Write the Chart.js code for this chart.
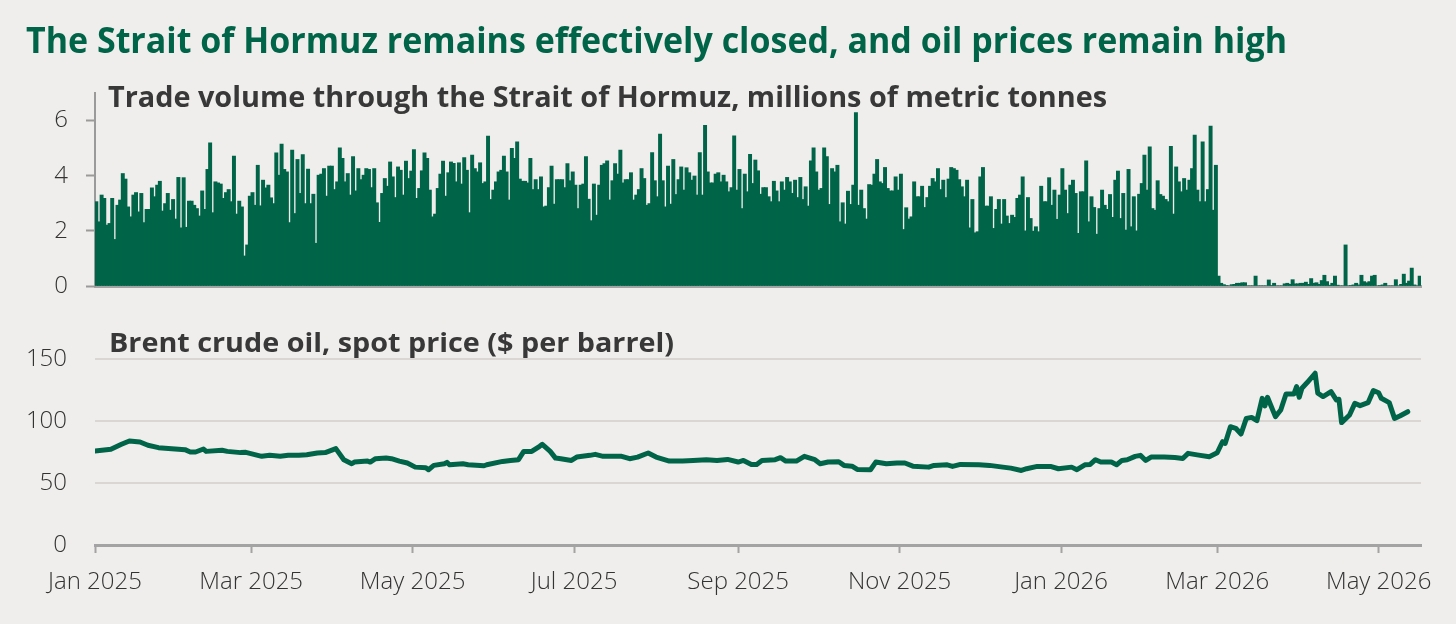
<!DOCTYPE html>
<html><head><meta charset="utf-8">
<script src="https://cdn.jsdelivr.net/npm/chart.js"></script>
<style>
html,body{margin:0;padding:0;background:#efeeec;}
#wrap{position:relative;width:1456px;height:624px;overflow:hidden;background:#efeeec;font-family:'Open Sans',sans-serif;}
canvas{position:absolute;left:0;}
.txt{position:absolute;white-space:nowrap;transform-origin:0 0;line-height:1;z-index:2;display:inline-block;}
#title{left:26px;top:22px;font-size:35px;font-weight:700;color:#006548;}
#sub1{left:108px;top:82px;font-size:28px;font-weight:700;color:#383838;}
#sub2{left:109px;top:328px;font-size:27.5px;font-weight:700;color:#383838;}
</style></head>
<body><div id="wrap">
<canvas id="c1" width="1456" height="340" style="top:0"></canvas>
<canvas id="c2" width="1456" height="324" style="top:300px"></canvas>
<div id="title" class="txt">The Strait of Hormuz remains effectively closed, and oil prices remain high</div>
<div id="sub1" class="txt">Trade volume through the Strait of Hormuz, millions of metric tonnes</div>
<div id="sub2" class="txt">Brent crude oil, spot price ($ per barrel)</div>
</div>
<script>
// ---- data (day 0 = 1 Jan 2025) ----
const monthTickDays = [0,59,120,181,243,304,365,424,485];
const monthTickLabels = ['Jan 2025','Mar 2025','May 2025','Jul 2025','Sep 2025','Nov 2025','Jan 2026','Mar 2026','May 2026'];
const volumeTicks = [0,2,4,6];
const brentTicks = [0,50,100,150];

// daily trade volume, 1 Jan 2025 - 28 Feb 2026
const volumePreClosure = [
3.06,2.33,3.30,3.18,2.21,2.27,3.18,1.69,2.93,3.12,
4.08,3.88,2.87,2.51,3.30,3.39,2.69,3.36,2.30,2.78,
2.78,3.56,3.24,3.66,3.80,2.72,2.99,3.36,2.75,3.14,
2.43,3.94,2.11,3.93,2.13,3.08,3.08,2.93,2.81,2.54,
3.45,2.78,4.23,5.19,2.66,3.78,3.74,3.70,3.18,3.39,
3.50,3.06,4.71,2.61,3.08,2.87,1.09,1.49,3.26,3.39,
2.93,4.38,2.91,3.84,3.56,3.66,3.20,2.99,4.83,4.02,
5.15,4.23,4.14,2.30,4.93,2.63,4.59,3.36,4.77,2.99,
4.24,2.99,3.33,1.55,4.02,
4.06,4.26,3.26,4.35,4.35,3.50,3.78,5.01,4.63,3.78,
4.08,3.30,4.69,3.45,4.26,3.86,4.02,4.26,4.23,3.57,
4.26,3.02,2.31,3.36,3.90,3.62,4.50,3.96,3.21,4.32,
4.20,3.30,4.53,3.90,4.17,4.95,3.18,3.54,4.18,4.83,
4.63,3.48,2.51,2.61,3.54,4.06,4.53,3.26,4.11,4.50,
4.45,3.78,4.47,3.70,4.66,4.20,2.66,4.75,4.26,4.14,
4.47,3.72,3.78,5.44,3.14,3.48,3.78,4.14,4.20,4.71,
4.14,3.12,4.99,4.63,5.23,3.88,3.80,3.80,3.74,4.63,
3.50,3.86,3.50,3.96,2.87,
2.90,3.57,4.35,2.97,3.86,3.86,3.86,3.57,4.44,3.82,
4.14,3.66,2.81,3.66,3.70,4.69,3.15,2.37,3.70,2.57,
3.66,4.38,4.44,4.54,3.12,3.82,4.44,4.06,4.93,3.74,
3.86,3.86,4.11,3.12,3.30,3.50,4.26,3.90,2.93,2.99,
4.84,3.82,3.24,5.51,3.82,2.87,4.35,2.97,4.59,3.32,
3.86,4.32,3.48,4.29,4.11,3.84,3.99,3.30,4.84,3.30,
5.83,4.14,3.74,3.74,4.06,4.11,3.78,4.02,3.78,3.42,
3.57,5.45,3.48,4.23,2.81,4.06,3.42,4.78,3.72,4.57,
4.18,3.33,3.57,3.57,3.24,
3.06,3.80,3.45,3.06,3.78,3.48,3.94,3.78,3.36,3.84,
3.21,3.94,3.14,3.60,2.90,4.54,5.01,4.14,3.48,3.54,
5.01,4.69,2.96,4.26,4.14,4.38,2.33,3.02,2.25,3.44,
2.96,3.66,6.29,2.93,3.48,2.81,2.43,3.68,3.66,4.06,
4.59,3.78,3.72,4.30,3.54,3.45,3.45,3.96,3.48,4.06,
2.05,2.84,2.43,2.51,3.78,3.24,3.24,3.62,2.85,3.21,
3.62,3.90,3.78,4.26,3.50,3.84,3.21,3.88,4.30,4.26,
4.20,3.86,3.60,3.24,3.84,2.11,3.14,1.93,1.97,3.96,
4.30,2.90,2.90,3.24,2.09,
2.78,3.14,2.25,3.14,2.54,2.27,2.57,2.49,3.18,3.30,
3.96,2.00,3.21,2.45,1.99,2.15,1.97,3.62,3.06,3.06,
3.93,2.93,3.48,2.42,3.30,4.26,3.48,2.63,3.66,3.84,
3.36,1.91,3.42,3.42,4.54,2.33,3.24,2.85,1.88,2.81,
3.48,2.93,2.78,3.32,2.49,3.84,4.17,2.45,3.36,2.03,
4.23,2.15,3.24,2.00,3.33,3.72,4.75,3.48,5.05,2.81,
2.75,3.82,3.32,3.26,3.14,3.06,5.07,2.61,4.32,3.78,
3.42,3.90,3.48,3.84,4.26,5.47,3.48,3.06,5.23,3.06,
3.50,5.80,2.75,4.38
];
// daily trade volume, 1 Mar 2026 onwards
const volumePostClosure = [
0.36,0.10,0.05,0.02,0.00,0.05,0.06,0.10,0.10,0.12,
0.12,0.00,0.00,0.00,0.36,0.00,0.00,0.00,0.00,0.22,
0.02,0.10,0.00,0.00,0.00,0.08,0.10,0.06,0.23,0.08,
0.08,0.10,0.10,0.14,0.06,0.27,0.10,0.12,0.06,0.20,
0.39,0.16,0.03,0.10,0.36,0.03,0.00,0.00,1.49,0.00,
0.02,0.04,0.10,0.04,0.39,0.16,0.12,0.16,0.36,0.39,
0.00,0.02,0.04,0.10,0.00,0.00,0.00,0.23,0.00,0.06,
0.43,0.10,0.18,0.65,0.04,0.00,0.36
];

// Brent spot price: day index and $/barrel
const brentDays = [0,6,10,13,17,20,24,29,34,36,38,41,42,48,50,55,57,60,63,66,70,73,77,80,84,87,90,91,94,97,98,103,104,106,110,112,115,118,121,125,126,128,132,133,134,139,141,147,148,154,157,160,162,165,168,169,172,174,176,180,182,187,189,192,196,199,202,205,209,212,217,222,226,231,235,239,243,245,248,250,252,257,259,261,265,268,272,274,277,281,283,286,288,293,295,299,303,306,309,315,317,322,324,327,334,338,343,346,350,352,356,361,364,369,371,374,376,378,380,384,386,388,390,393,395,397,399,404,408,411,413,417,421,424,426,427,429,431,433,435,437,439,441,442,443,446,448,450,453,454,455,456,458,461,462,464,467,469,470,471,474,476,478,481,483,485,486,489,491,493,496];
const brentPrices = [75.8,77.2,81.2,83.9,83.1,80.4,78.5,77.7,76.9,75.0,75.0,77.4,75.5,76.4,75.5,74.5,74.7,73.1,71.5,72.3,71.5,72.3,72.3,72.8,74.2,74.5,76.9,77.7,68.8,65.5,66.9,67.7,66.9,69.6,70.1,69.6,67.7,66.1,62.8,62.3,60.7,64.2,65.5,66.6,64.7,65.5,64.7,63.9,64.7,67.4,68.2,68.8,75.5,75.5,79.6,81.2,75.5,70.1,69.6,68.2,70.9,72.3,73.1,71.5,71.5,71.5,69.6,70.9,74.2,70.9,67.7,67.7,68.2,68.8,68.2,69.0,66.9,68.2,65.0,65.0,68.2,68.8,70.4,67.7,67.7,71.5,68.8,65.5,66.9,67.2,64.2,63.6,60.9,60.7,66.9,65.5,66.1,66.1,63.6,62.8,64.2,64.7,63.4,65.0,64.7,64.2,62.8,62.0,60.1,61.5,63.4,63.4,61.5,62.8,60.7,64.7,65.0,68.8,66.9,66.9,64.7,68.2,68.8,71.5,72.3,68.2,70.9,71.0,70.6,69.8,73.9,72.5,71.2,74.4,83.3,81.9,95.4,94.1,89.5,102.1,102.9,100.3,118.3,112.1,119.1,103.5,108.9,121.8,121.8,127.7,119.1,126.4,131.0,138.5,122.4,119.7,123.7,117.0,117.5,98.7,104.8,114.2,112.4,114.8,124.5,122.8,118.3,114.8,102.1,104.0,107.5];

// ---- chart ----
const GREEN = '#006548';
const AXIS = '#a3a3a3';
const TXT = '#333333';
const X_MAX_DAY = 501;
Chart.defaults.font.family = "'Open Sans', sans-serif";

const volume = volumePreClosure.concat(volumePostClosure);

new Chart(document.getElementById('c1'), {
  type: 'bar',
  data: { datasets: [{
    data: volume.map((v, i) => ({ x: i + 0.5, y: v })),
    backgroundColor: GREEN, borderWidth: 0, barThickness: 3.3
  }]},
  options: {
    responsive: false, animation: false, events: [],
    layout: { padding: { top: 93, bottom: 0, left: 0, right: 35 } },
    plugins: { legend: { display: false }, tooltip: { enabled: false } },
    scales: {
      x: { type: 'linear', min: 0, max: X_MAX_DAY, offset: false, z: 1,
           ticks: { display: false }, grid: { display: false, offset: false },
           border: { display: true, color: AXIS, width: 3 },
           afterFit: s => { s.height = 54; } },
      y: { min: 0, max: 7,
           afterBuildTicks: s => { s.ticks = volumeTicks.map(v => ({ value: v })); },
           ticks: { font: { size: 24, weight: 300 }, color: TXT, padding: 18 },
           grid: { drawOnChartArea: false, drawTicks: true, tickLength: 9, tickColor: '#9a9a9a', tickWidth: 2 },
           border: { display: true, color: '#9a9a9a', width: 2 },
           afterFit: s => { s.width = 95; } }
    }
  }
});

new Chart(document.getElementById('c2'), {
  type: 'line',
  data: { datasets: [{
    data: brentDays.map((d, i) => ({ x: d, y: brentPrices[i] })),
    borderColor: GREEN, borderWidth: 5, pointRadius: 0, tension: 0,
    borderJoinStyle: 'round', borderCapStyle: 'round', fill: false
  }]},
  options: {
    responsive: false, animation: false, events: [],
    layout: { padding: { top: 59, bottom: 0, left: 0, right: 35 } },
    plugins: { legend: { display: false }, tooltip: { enabled: false } },
    scales: {
      x: { type: 'linear', min: 0, max: X_MAX_DAY, offset: false, z: 1,
           afterBuildTicks: s => { s.ticks = monthTickDays.map(v => ({ value: v })); },
           ticks: { autoSkip: false, maxRotation: 0, font: { size: 24, weight: 300 }, color: TXT, padding: 15,
                    callback: (v, i) => monthTickLabels[i] },
           grid: { drawOnChartArea: false, drawTicks: true, tickLength: 8, tickColor: AXIS, tickWidth: 2 },
           border: { display: true, color: AXIS, width: 3 },
           afterFit: s => { s.height = 79; } },
      y: { min: 0, max: 150,
           afterBuildTicks: s => { s.ticks = brentTicks.map(v => ({ value: v })); },
           ticks: { font: { size: 24, weight: 300 }, color: TXT, padding: 28 },
           grid: { color: c => (c.tick && c.tick.value === 0) ? 'rgba(0,0,0,0)' : '#d9d6d3', lineWidth: 2, drawTicks: false },
           border: { display: false },
           afterFit: s => { s.width = 95; } }
    }
  }
});

function fit(id, w) {
  const el = document.getElementById(id);
  el.style.transform = 'none';
  const r = el.getBoundingClientRect().width;
  if (r > 0) el.style.transform = 'scaleX(' + (w / r) + ')';
}
function fitAll() { fit('title', 1261); fit('sub1', 999); fit('sub2', 565); }
fitAll();
if (document.fonts && document.fonts.ready) document.fonts.ready.then(fitAll);
</script>
</body></html>
